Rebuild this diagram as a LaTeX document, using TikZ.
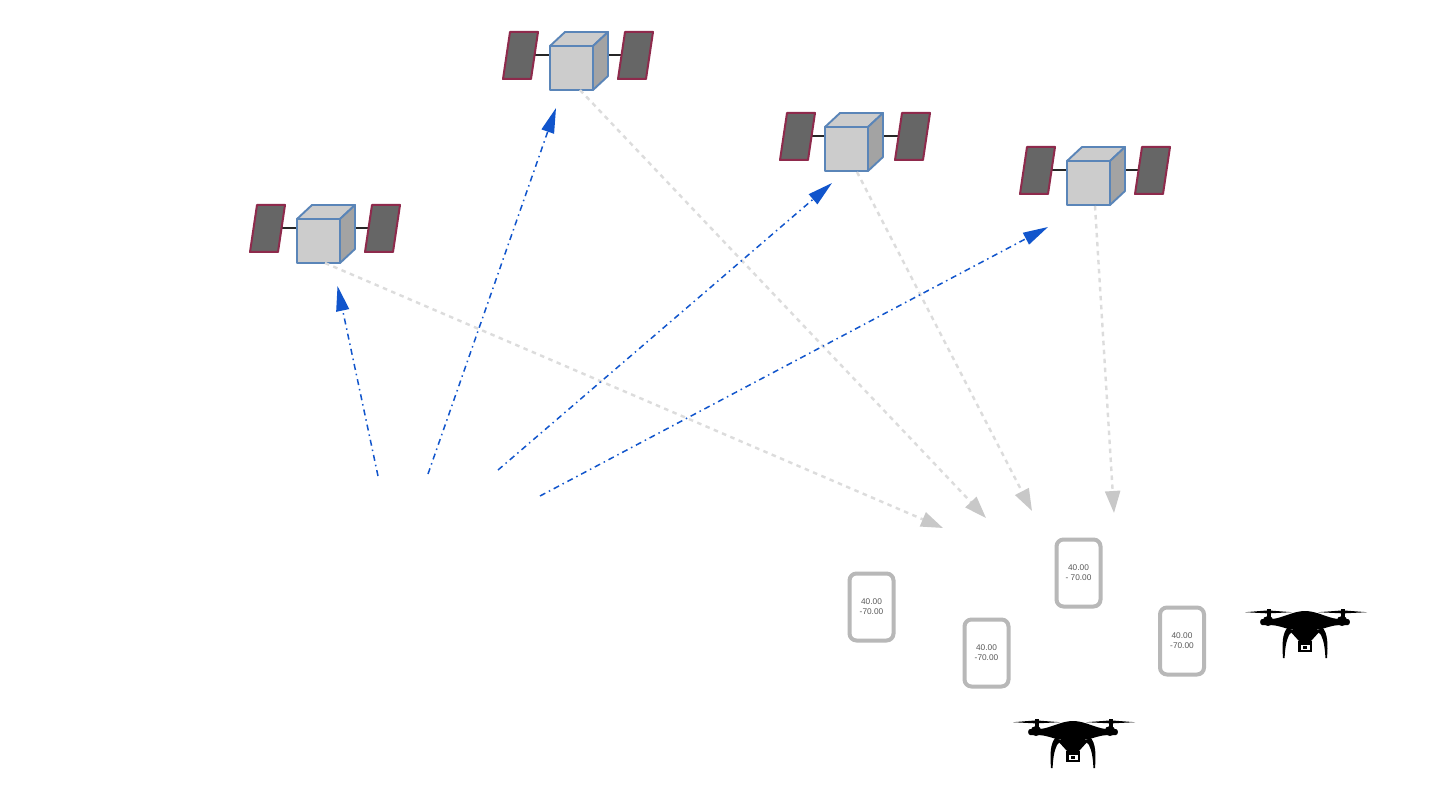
\documentclass[tikz,border=0pt]{standalone}
\usepackage{fontspec}
\setmainfont{Liberation Sans}
\usetikzlibrary{arrows.meta}
\definecolor{panelfill}{HTML}{666666}
\definecolor{paneledge}{HTML}{8E2A4C}
\definecolor{cubeedge}{HTML}{5A85B8}
\definecolor{cubefront}{HTML}{CCCCCC}
\definecolor{cubeside}{HTML}{A3A3A3}
\definecolor{uplink}{HTML}{1155CC}
\definecolor{downlink}{HTML}{DCDCDC}
\definecolor{downtip}{HTML}{C8C8C8}
\definecolor{cardedge}{HTML}{B8B8B8}
\tikzset{
  x=1pt,y=-1pt,
  panel/.style={fill=panelfill,draw=paneledge,line width=2pt,line join=round},
  cube/.style={draw=cubeedge,line width=1.9pt,line join=round},
  upl/.style={draw=uplink,line width=1.5pt,dash pattern=on 6pt off 4pt on 1.5pt off 4pt,
    -{Triangle[length=25pt,width=13pt,fill=uplink]}},
  downl/.style={draw=downlink,line width=2.4pt,dash pattern=on 4.5pt off 4.5pt,
    -{Triangle[length=22pt,width=15pt,fill=downtip,color=downtip]}},
  card/.style={draw=cardedge,line width=4pt,rounded corners=7pt,fill=white,
    minimum width=44pt,minimum height=67pt,inner sep=0pt,align=center,
    font=\fontsize{8.3}{10}\selectfont,text=black!65},
  pics/sat/.style={code={
    \draw[line width=1.6pt,black!85] (-19+#1,9) -- (0,9) (58,9) -- (72+#1,9);
    \path[panel] (-47+#1,33) -- (-40+#1,-14) -- (-12+#1,-14) -- (-19+#1,33) -- cycle;
    \path[panel] (68+#1,33) -- (75+#1,-14) -- (103+#1,-14) -- (96+#1,33) -- cycle;
    \path[cube,fill=cubefront] (0,0) -- (15,-14) -- (58,-14) -- (43,0) -- cycle;
    \path[cube,fill=cubeside] (43,0) -- (58,-14) -- (58,30) -- (43,44) -- cycle;
    \path[cube,fill=cubefront] (0,0) rectangle (43,44);
  }},
  pics/sat/.default=0,
  drone/.pic={
    \fill[black] (-60,1.2) -- (-37,-0.6) -- (-13,1.2) -- (-37,2.4) -- cycle;
    \fill[black] (13,1.2) -- (38,-0.6) -- (62,1.2) -- (38,2.4) -- cycle;
    \fill[black] (-38.5,-2) rectangle (-34.5,8);
    \fill[black] (35.5,-2) rectangle (39.5,8);
    \fill[black] (-37,10) ellipse (5.5pt and 5pt);
    \fill[black] (37,10) ellipse (5.5pt and 5pt);
    \fill[black] (-43,8) .. controls (-45.5,8.5) and (-45.5,13.5) .. (-43,14) -- (-30,14) -- (-30,8) -- cycle;
    \fill[black] (43,8) .. controls (45.5,8.5) and (45.5,13.5) .. (43,14) -- (30,14) -- (30,8) -- cycle;
    \fill[black] (-33,8) .. controls (-22,7) and (-12,0) .. (0,0)
      .. controls (12,0) and (22,7) .. (33,8) -- (33,14)
      .. controls (24,15) and (16,19) .. (10,19) -- (-10,19)
      .. controls (-16,19) and (-24,15) .. (-33,14) -- cycle;
    \fill[black] (-16,19) -- (16,19) -- (6,30) -- (-6,30) -- cycle;
    \fill[black] (-7,30) rectangle (7,41);
    \fill[white] (-4.5,33.5) rectangle (4.5,39);
    \fill[black] (-2.2,34.5) rectangle (2.2,38);
    \fill[black] (-17,16) .. controls (-23,22) and (-23,34) .. (-22,47)
      -- (-20.4,47) .. controls (-20,38) and (-19,30) .. (-16,24)
      .. controls (-15,22) and (-13,21) .. (-11,21) -- cycle;
    \fill[black] (17,16) .. controls (23,22) and (23,34) .. (22,47)
      -- (20.4,47) .. controls (20,38) and (19,30) .. (16,24)
      .. controls (15,22) and (13,21) .. (11,21) -- cycle;
  }
}
\begin{document}
\begin{tikzpicture}
\useasboundingbox (0,0) rectangle (1440,810);
\fill[white] (0,0) rectangle (1440,810);

% satellites
\pic at (297,219) {sat};
\pic at (550,46) {sat};
\pic at (825,127) {sat=2};
\pic at (1067,161) {sat};

% downlink ends
\coordinate (sa) at (325,263); \coordinate (ga) at (943,528);
\coordinate (sb) at (580,90);  \coordinate (gb) at (986,518);
\coordinate (sc) at (857,172); \coordinate (gc) at (1032,511);
\coordinate (sd) at (1095,206); \coordinate (gd) at (1114,513);
\draw[downl] (sa) -- (ga);
\draw[downl] (sb) -- (gb);
\draw[downl] (sc) -- (gc);
\draw[downl] (sd) -- (gd);

% uplink ends
\coordinate (ua) at (378,476); \coordinate (ta) at (337.5,286);
\coordinate (ub) at (428,474); \coordinate (tb) at (556,108);
\coordinate (uc) at (498,470); \coordinate (tc) at (832,183);
\coordinate (ud) at (540,496); \coordinate (td) at (1048,227);
\draw[upl] (ua) -- (ta);
\draw[upl] (ub) -- (tb);
\draw[upl] (uc) -- (tc);
\draw[upl] (ud) -- (td);

% cards
\node[card] (c1) at (871.5,607) {40.00\\-70.00};
\node[card] (c2) at (986.5,653) {40.00\\-70.00};
\node[card] (c3) at (1078.5,573) {40.00\\- 70.00};
\node[card] (c4) at (1182,641) {40.00\\-70.00};

% drones
\pic at (1073,721) {drone};
\pic at (1305,611) {drone};
\end{tikzpicture}
\end{document}
